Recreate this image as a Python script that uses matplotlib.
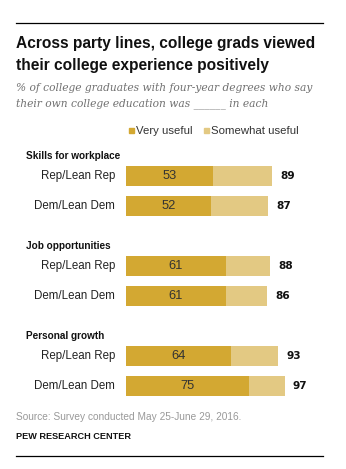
import matplotlib.pyplot as plt
from matplotlib.transforms import blended_transform_factory
from matplotlib.lines import Line2D
from matplotlib import font_manager

groups = ["Skills for workplace", "Job opportunities", "Personal growth"]
parties = ["Rep/Lean Rep", "Dem/Lean Dem"]
very_useful = [[53, 52], [61, 61], [64, 75]]
net_useful = [[89, 87], [88, 86], [93, 97]]

DARK = "#D3A832"
LIGHT = "#E3C983"

W, H = 346, 469
fig = plt.figure(figsize=(W / 100, H / 100), dpi=100)

names = {f.name for f in font_manager.fontManager.ttflist}
narrow = "Liberation Sans Narrow" if "Liberation Sans Narrow" in names else "Liberation Sans"
sans = "Liberation Sans"


def fx(px):
    return px / W


def fy(py):
    return 1 - py / H


# rule lines top and bottom
for py in (23, 456):
    fig.add_artist(Line2D([fx(16), fx(323)], [fy(py), fy(py)], color="black", lw=0.9))

fig.text(fx(16), fy(43.5), "Across party lines, college grads viewed", fontsize=11.2,
         fontweight="bold", family=narrow, va="center", color="#111111")
fig.text(fx(16), fy(65), "their college experience positively", fontsize=11.2,
         fontweight="bold", family=narrow, va="center", color="#111111")
fig.text(fx(16), fy(88), "% of college graduates with four-year degrees who say",
         fontsize=7.7, style="italic", family="DejaVu Serif", va="center", color="#707070")
fig.text(fx(16), fy(104), "their own college education was ______ in each",
         fontsize=7.7, style="italic", family="DejaVu Serif", va="center", color="#707070")

# legend
for sx, label, col in [(128.5, "Very useful", DARK), (203.5, "Somewhat useful", LIGHT)]:
    fig.add_artist(plt.Rectangle((fx(sx), fy(133)), fx(5), 5 / H, color=col))
    fig.text(fx(sx + 7), fy(130.5), label, fontsize=8.2, family=sans, va="center",
             color="#333333")

# bars area: x 0..100 maps to px 126..289.7, one row unit = 30 px
ax = fig.add_axes([fx(126), fy(400.7), 163.7 / W, 240 / H])
ax.set_xlim(0, 100)
ax.set_ylim(7.5, -0.5)
ax.axis("off")

tr = blended_transform_factory(fig.transFigure, ax.transData)
for g, grp in enumerate(groups):
    base = g * 3
    ax.text(fx(26), base - 0.65, grp, transform=tr, fontsize=7.2, fontweight="bold",
            family=narrow, va="center", color="#111111")
    for r, party in enumerate(parties):
        y = base + r
        v = very_useful[g][r]
        tot = net_useful[g][r]
        ax.barh(y, v, height=0.667, color=DARK, lw=0)
        ax.barh(y, tot - v, left=v, height=0.667, color=LIGHT, lw=0)
        ax.text(v / 2, y, str(v), ha="center", va="center", fontsize=9.3,
                family=sans, color="#333333")
        ax.text(tot + 5, y, str(tot), ha="left", va="center", fontsize=7.6,
                family="DejaVu Sans", fontweight="bold", color="#111111")
        ax.text(fx(115), y, party, transform=tr, ha="right", va="center",
                fontsize=8.3, family=sans, color="#222222")

fig.text(fx(16), fy(417), "Source: Survey conducted May 25-June 29, 2016.",
         fontsize=7.25, family=sans, va="center", color="#999999")
fig.text(fx(16), fy(436), "PEW RESEARCH CENTER", fontsize=6.6, family=narrow,
         fontweight="bold", va="center", color="#111111")

fig.savefig("out.png", dpi=100)
